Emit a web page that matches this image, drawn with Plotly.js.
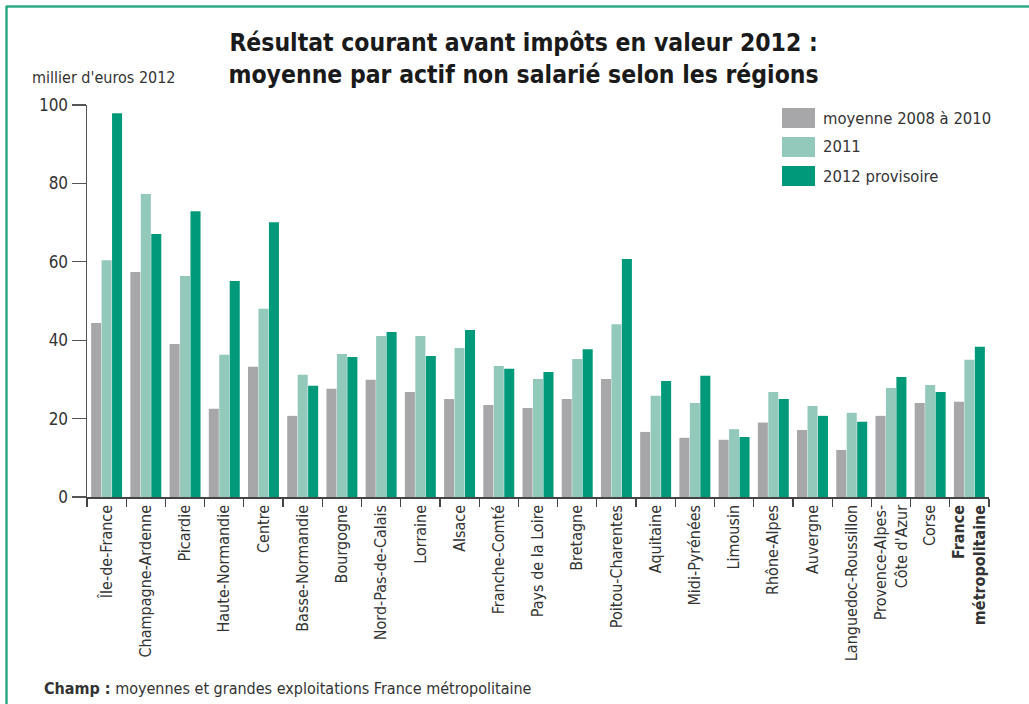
<!DOCTYPE html>
<html>
<head>
<meta charset="utf-8">
<script src="https://cdn.plot.ly/plotly-3.0.1.min.js"></script>
<style>
html,body{margin:0;padding:0;background:#fff;}
#chart{width:1029px;height:704px;}
</style>
</head>
<body>
<div id="chart"></div>
<script>
const regions = ["Île-de-France","Champagne-Ardenne","Picardie","Haute-Normandie","Centre","Basse-Normandie","Bourgogne","Nord-Pas-de-Calais","Lorraine","Alsace","Franche-Comté","Pays de la Loire","Bretagne","Poitou-Charentes","Aquitaine","Midi-Pyrénées","Limousin","Rhône-Alpes","Auvergne","Languedoc-Roussillon","Provence-Alpes-<br>Côte d'Azur","Corse","<b>France<br>métropolitaine</b>"];
const seriesNames = ["moyenne 2008 à 2010","2011","2012 provisoire"];
const moy2008_2010 = [44.4,57.4,39.0,22.5,33.2,20.7,27.6,29.9,26.8,25.0,23.5,22.7,25.0,30.1,16.6,15.1,14.6,19.0,17.1,12.0,20.7,24.0,24.3];
const v2011 = [60.4,77.3,56.4,36.3,48.0,31.2,36.5,41.1,41.1,38.0,33.4,30.1,35.2,44.1,25.8,24.0,17.3,26.8,23.2,21.5,27.8,28.6,35.0];
const v2012 = [97.9,67.1,72.9,55.1,70.1,28.4,35.7,42.1,36.0,42.6,32.7,31.9,37.7,60.7,29.6,30.9,15.3,25.0,20.7,19.2,30.6,26.8,38.3];
const yTicks = [0,20,40,60,80,100];

const colors = ["#a7a7aa","#93c9bb","#009a7a"];
const fontFam = "'Liberation Sans Narrow','DejaVu Sans Condensed','Roboto Condensed',sans-serif";
const seriesData = [moy2008_2010, v2011, v2012];

const traces = seriesData.map((vals,i)=>({
  type:"bar", x:regions, y:vals, name:seriesNames[i],
  marker:{color:colors[i], line:{width:0}}, showlegend:false, hoverinfo:"x+y"
}));

// custom legend (large swatches)
const shapes = [];
const annotations = [];
const legX0 = 782, legW = 33, legH = 20, legY = [118,147,176];
seriesNames.forEach((n,i)=>{
  shapes.push({type:"rect", xref:"paper", yref:"paper",
    x0:(legX0-87)/902, x1:(legX0+legW-87)/902,
    y0:(497-(legY[i]+legH/2))/392, y1:(497-(legY[i]-legH/2))/392,
    fillcolor:colors[i], line:{width:0}});
  annotations.push({xref:"paper", yref:"paper", x:(821-87)/902, y:(497-legY[i])/392,
    xanchor:"left", yanchor:"middle", showarrow:false, text:n,
    font:{family:fontFam, size:16.5, color:"#333"}});
});
// frame lines
shapes.push({type:"line", xref:"paper", yref:"paper", x0:(6-87)/902, x1:(1029-87)/902, y0:(497-6.5)/392, y1:(497-6.5)/392, line:{color:"#2fa884", width:2.5}});
shapes.push({type:"line", xref:"paper", yref:"paper", x0:(6.5-87)/902, x1:(6.5-87)/902, y0:(497-6)/392, y1:(497-704)/392, line:{color:"#2fa884", width:2.5}});

annotations.push({xref:"paper", yref:"paper", x:(30-87)/902, y:(497-78)/392, xanchor:"left", yanchor:"middle", showarrow:false,
  text:"millier d'euros 2012", font:{family:fontFam, size:16, color:"#333"}});
annotations.push({xref:"paper", yref:"paper", x:(42-87)/902, y:(497-688)/392, xanchor:"left", yanchor:"middle", showarrow:false,
  text:"<b>Champ :</b> moyennes et grandes exploitations France métropolitaine", font:{family:fontFam, size:16, color:"#333"}});

const layout = {
  width:1029, height:704,
  paper_bgcolor:"#fff", plot_bgcolor:"#fff",
  margin:{l:87, r:40, t:105, b:207},
  barmode:"group", bargap:0.2, bargroupgap:0.04,
  title:{text:"<b>Résultat courant avant impôts en valeur 2012 :<br>moyenne par actif non salarié selon les régions</b>",
    x:0.484, xanchor:"center", y:0.927, yanchor:"middle", xref:"paper",
    font:{family:fontFam, size:24.5, color:"#1a1a1a"}},
  xaxis:{type:"category", showline:true, linecolor:"#444", linewidth:1.5, ticks:"outside", tickson:"boundaries",
    ticklen:8, tickcolor:"#444", tickwidth:1.2, tickangle:-90, showgrid:false, zeroline:false,
    tickfont:{family:fontFam, size:16, color:"#333"}, fixedrange:true},
  yaxis:{range:[0,100], tickvals:yTicks, ticktext:yTicks.map(String), showline:true, linecolor:"#555", linewidth:1.5,
    ticks:"outside", ticklen:14, tickcolor:"#555", tickwidth:1.2, showgrid:false, zeroline:false,
    tickfont:{family:fontFam, size:17, color:"#333"}, fixedrange:true},
  shapes:shapes, annotations:annotations, showlegend:false
};
Plotly.newPlot("chart", traces, layout, {displayModeBar:false, staticPlot:true});
</script>
</body>
</html>
